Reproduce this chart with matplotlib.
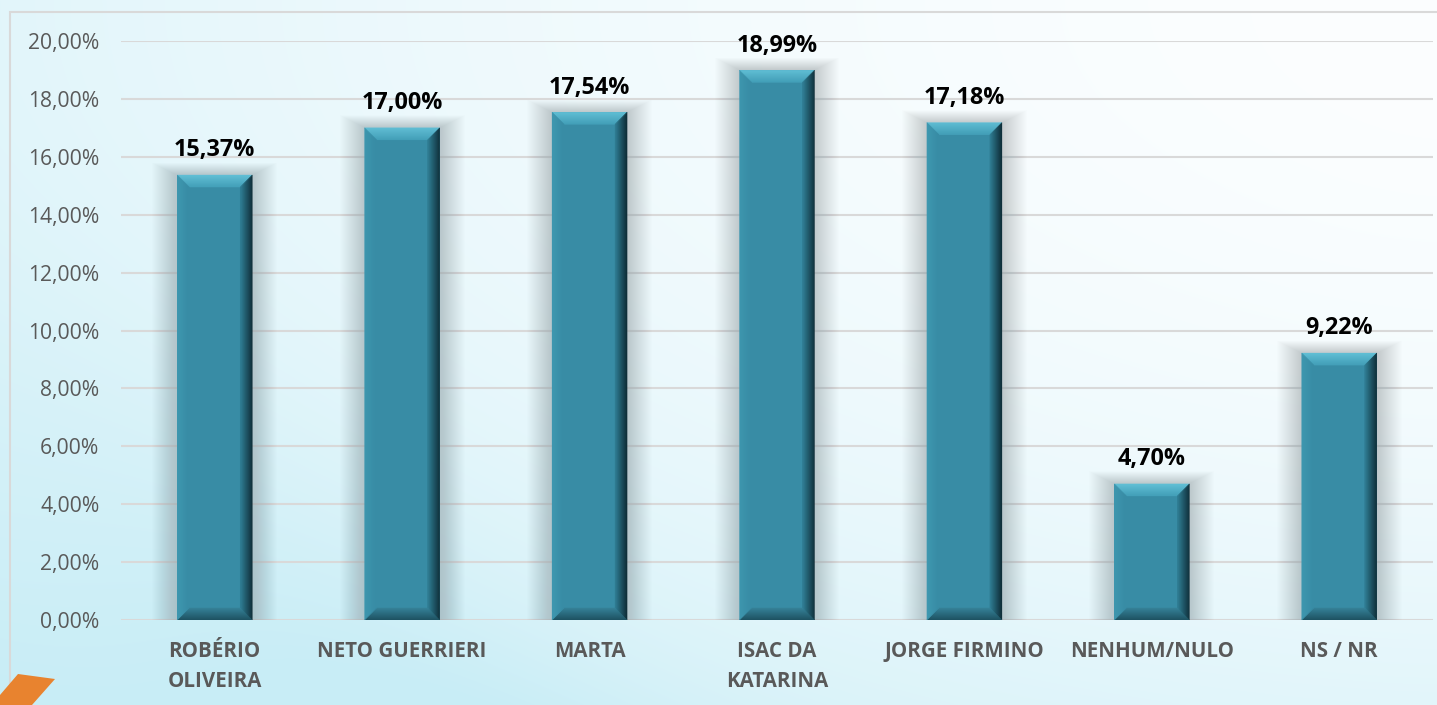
import numpy as np
import matplotlib
matplotlib.use('Agg')
import matplotlib.pyplot as plt
from matplotlib.patches import Polygon, Rectangle
from matplotlib.collections import PolyCollection
import matplotlib.colors as mcolors

categories = ["ROBÉRIO\nOLIVEIRA", "NETO GUERRIERI", "MARTA", "ISAC DA\nKATARINA",
              "JORGE FIRMINO", "NENHUM/NULO", "NS / NR"]
values = [15.37, 17.00, 17.54, 18.99, 17.18, 4.70, 9.22]
yticks = [0, 2, 4, 6, 8, 10, 12, 14, 16, 18, 20]
ytick_labels = [("%.2f" % v).replace('.', ',') + '%' for v in yticks]
value_labels = [("%.2f" % v).replace('.', ',') + '%' for v in values]

plt.rcParams['font.family'] = ['Open Sans', 'DejaVu Sans']

W, H = 1437, 705
fig = plt.figure(figsize=(W / 100, H / 100), dpi=100)

# ---- background ----
bg = fig.add_axes([0, 0, 1, 1])
bg.set_xlim(0, W)
bg.set_ylim(H, 0)
bg.axis('off')
yy, xx = np.mgrid[0:H, 0:W].astype(float)
t = 0.5 * (1 - xx / W) ** 1.6 + 0.5 * (yy / H) ** 2.0
band = np.exp(-((xx + (H - yy) * 1.0 - 420) / 260.0) ** 2) * (yy / H) ** 2
t = np.clip(t + 0.25 * band, 0, 1)
white = np.array(mcolors.to_rgb('#FCFEFF'))
cyan = np.array(mcolors.to_rgb('#C8EDF6'))
img = white[None, None, :] * (1 - t[..., None]) + cyan[None, None, :] * t[..., None]
bg.imshow(img, extent=[0, W, H, 0], aspect='auto', zorder=0)
# frame
bg.plot([10, 10, W], [H, 12, 12], color='#D9D9D9', lw=1.5, zorder=1,
        solid_joinstyle='miter')
# orange decoration
bg.add_patch(Polygon([(0, 695), (18, 674), (55, 679), (32, 705), (0, 705)],
                     closed=True, facecolor='#E8832F', edgecolor='none', zorder=2))

# ---- chart ----
ax_w, ax_h = 1312, 579
ax = fig.add_axes([121 / W, 85 / H, ax_w / W, ax_h / H])
ax.patch.set_alpha(0)
n = len(values)
ax.set_xlim(-0.5, n - 0.5)
ax.set_ylim(0, 20)
for s in ax.spines.values():
    s.set_visible(False)
ax.set_yticks(yticks)
ax.set_yticklabels(ytick_labels, fontsize=15.2, color='#595959')
ax.yaxis.grid(True, color='#D9D9D9', lw=1.5, zorder=0)
ax.set_axisbelow(True)
ax.tick_params(axis='y', length=0, pad=15.5)
ax.set_xticks(range(n))
ax.set_xticklabels(categories, fontsize=14.8, fontweight='bold', color='#595959',
                   linespacing=1.55, va='top')
ax.tick_params(axis='x', length=0, pad=15)

px = (n) / ax_w          # data units per pixel (x)
py = 20.0 / ax_h         # data units per pixel (y)
bw = 0.40

# soft shadow
for i, v in enumerate(values):
    x0, x1 = i - bw / 2, i + bw / 2
    for k in range(1, 26):
        ax.add_patch(Rectangle((x0 - k * px, 0), (x1 - x0) + 2 * k * px,
                               v + k * py * 0.5, facecolor='#7A8A90',
                               edgecolor='none', alpha=0.016, zorder=1))

bars = ax.bar(range(n), values, width=bw, color='#388CA5', zorder=3)

def lerp(c1, c2, f):
    a = np.array(mcolors.to_rgb(c1)); b = np.array(mcolors.to_rgb(c2))
    return tuple(a * (1 - f) + b * f)

B = 12
sides = {
    'top': ('#62C0D6', '#45A2BB'),
    'right': ('#0E2C36', '#2E7A90'),
    'bottom': ('#1E5362', '#347F95'),
    'left': ('#3F98B0', '#388CA5'),
}
for i, v in enumerate(values):
    x0, x1 = i - bw / 2, i + bw / 2
    yt = v
    polys, cols = [], []
    for k in range(B):
        f = k / (B - 1)
        a, b2 = k, k + 1
        polys.append([(x0 + a * px, yt - a * py), (x1 - a * px, yt - a * py),
                      (x1 - b2 * px, yt - b2 * py), (x0 + b2 * px, yt - b2 * py)])
        cols.append(lerp(*sides['top'], f))
        polys.append([(x1 - a * px, yt - a * py), (x1 - a * px, a * py),
                      (x1 - b2 * px, b2 * py), (x1 - b2 * px, yt - b2 * py)])
        cols.append(lerp(*sides['right'], f))
        polys.append([(x0 + a * px, a * py), (x1 - a * px, a * py),
                      (x1 - b2 * px, b2 * py), (x0 + b2 * px, b2 * py)])
        cols.append(lerp(*sides['bottom'], f))
        polys.append([(x0 + a * px, a * py), (x0 + a * px, yt - a * py),
                      (x0 + b2 * px, yt - b2 * py), (x0 + b2 * px, b2 * py)])
        cols.append(lerp(*sides['left'], f))
    pc = PolyCollection(polys, facecolors=cols, edgecolors=cols, linewidths=0.3,
                        zorder=4)
    ax.add_collection(pc)
    ax.annotate(value_labels[i], (i, v), xytext=(0, 13.4), textcoords='offset points',
                ha='center', va='baseline', fontsize=16.8, fontweight='bold',
                color='black', zorder=5)

fig.savefig('out.png', dpi=100)
